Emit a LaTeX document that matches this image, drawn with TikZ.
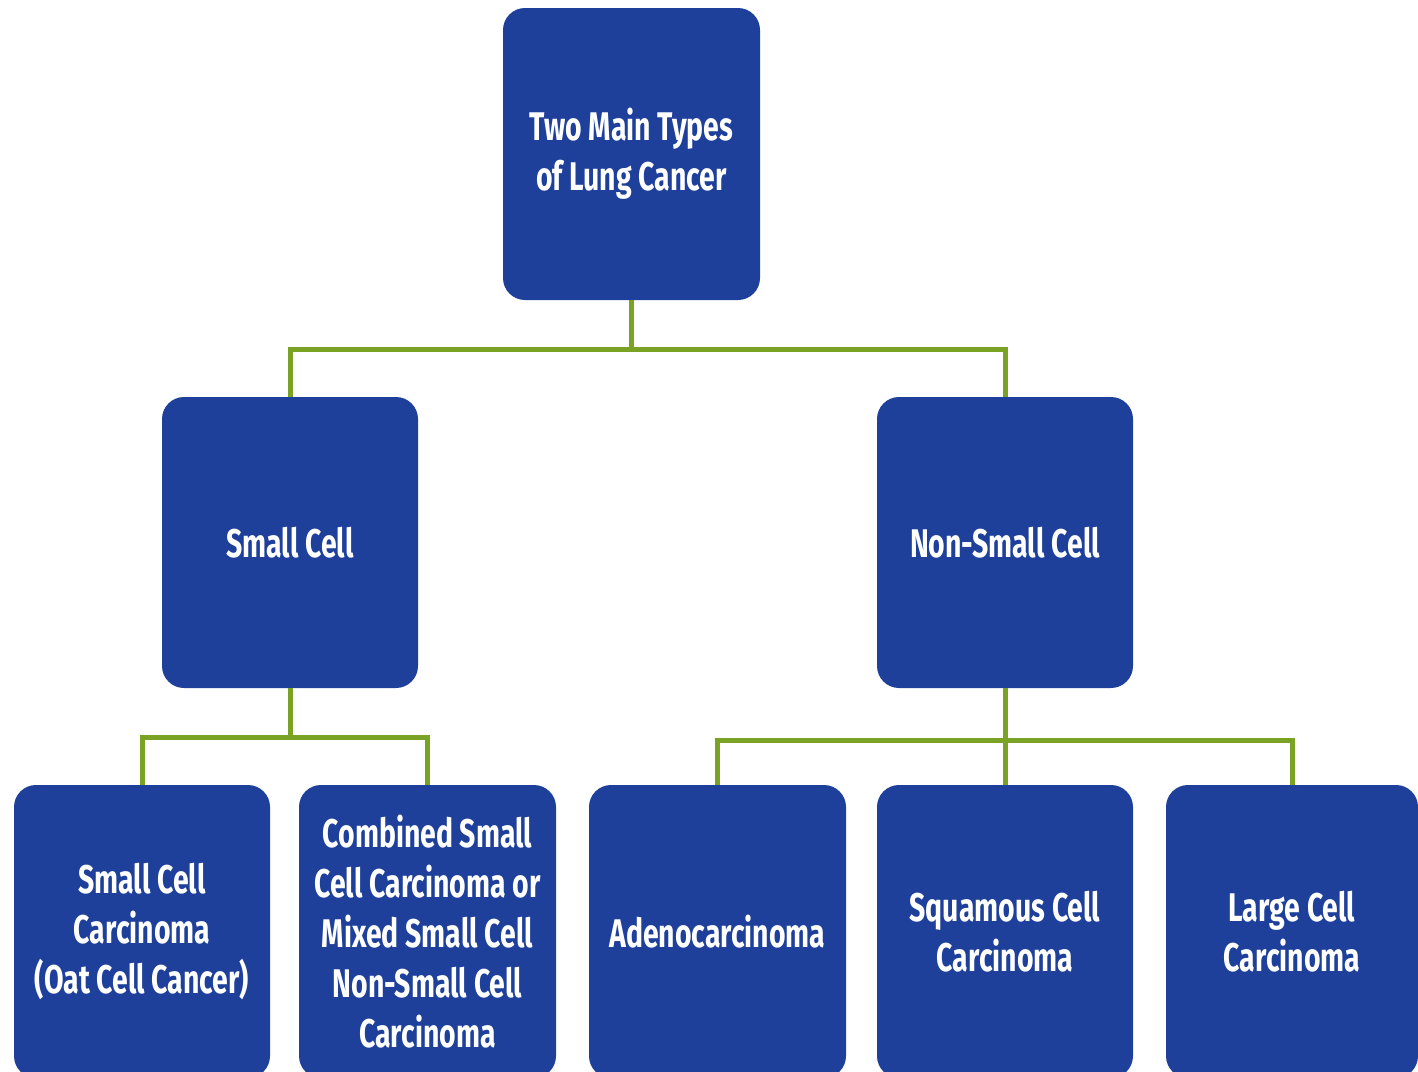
\documentclass[tikz,border=0pt]{standalone}
\usepackage{fontspec}
\newfontfamily\cond{Fira Sans}[FakeStretch=0.71]
\definecolor{boxblue}{RGB}{30,64,155}
\definecolor{linegreen}{RGB}{122,163,38}
\begin{document}
\begin{tikzpicture}[x=1pt,y=-1pt,
  box/.style={draw=none, fill=boxblue, rounded corners=22pt, text=white, align=center,
    font=\cond\bfseries\fontsize{40}{50}\selectfont, inner sep=0pt},
  topbox/.style={box, minimum width=257pt, minimum height=292pt},
  leafbox/.style={box, minimum width=256pt, minimum height=293pt},
  conn/.style={draw=linegreen, line width=5pt}]
\useasboundingbox (0,0) rectangle (1418,1071);
\clip (0,0) rectangle (1418,1071);
\node[topbox] (top) at (631.5,154) {Two Main Types\\of Lung Cancer};
\node[topbox, minimum width=256pt, minimum height=291pt] (sc) at (290,542.5) {Small Cell};
\node[topbox, minimum width=256pt, minimum height=291pt] (nsc) at (1005,542.5) {Non-Small Cell};
\node[leafbox] (b1) at (142,931.5) {Small Cell\\Carcinoma\\(Oat Cell Cancer)};
\node[leafbox, minimum width=257pt] (b2) at (427.5,931.5) {Combined Small\\Cell Carcinoma or\\Mixed Small Cell\\Non-Small Cell\\Carcinoma};
\node[leafbox, minimum width=257pt] (b3) at (717.5,931.5) {Adenocarcinoma};
\node[leafbox] (b4) at (1005,931.5) {Squamous Cell\\Carcinoma};
\node[leafbox, minimum width=252pt] (b5) at (1292,931.5) {Large Cell\\Carcinoma};
\coordinate (j1) at (631.5,349);
\coordinate (j2) at (290,737);
\coordinate (j3) at (1005,740);
\draw[conn] (top.south) -- (j1);
\draw[conn] (sc.north) |- (j1) -| (nsc.north);
\draw[conn] (sc.south) -- (j2);
\draw[conn] (b1.north) |- (j2) -| (b2.north);
\draw[conn] (nsc.south) -- (j3) -- (b4.north);
\draw[conn] (b3.north) |- (j3) -| (b5.north);
\end{tikzpicture}
\end{document}
